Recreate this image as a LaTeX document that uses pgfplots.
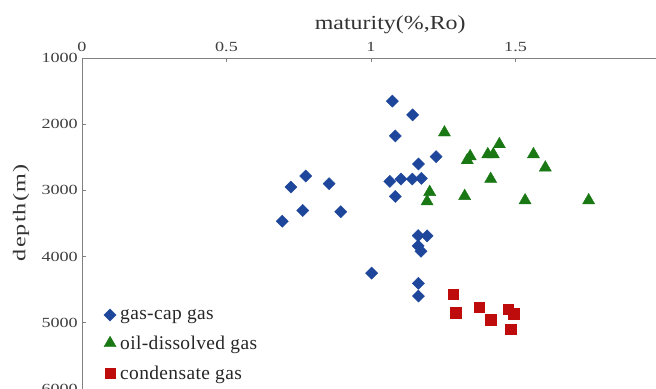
\documentclass[border=0pt]{standalone}
\usepackage{pgfplots}
\pgfplotsset{compat=1.18}
\usepackage{fontspec}
\setmainfont{Liberation Serif}
\newfontfamily\tickfont{Liberation Serif}[FakeStretch=1.3]
\newfontfamily\titlefont{Liberation Serif}[FakeStretch=1.2]
\newfontfamily\ylabfont{Liberation Serif}[FakeStretch=1.35, LetterSpace=6]
\newfontfamily\legfont{Liberation Serif}[LetterSpace=2]
\definecolor{capblue}{RGB}{30,70,155}
\definecolor{oilgreen}{RGB}{25,120,20}
\definecolor{condred}{RGB}{190,12,12}
\definecolor{axgray}{RGB}{128,128,128}
\begin{document}
\begin{tikzpicture}
\begin{axis}[
  scale only axis,
  width=574bp, height=331bp,
  xmin=0, xmax=1.986,
  ymin=1000, ymax=6000,
  y dir=reverse,
  axis x line*=top,
  axis y line*=left,
  axis line style={axgray, line width=0.9pt},
  every tick/.style={axgray, line width=0.8pt},
  tick align=inside,
  major tick length=4bp,
  xtick={0,0.5,1,1.5},
  ytick={1000,2000,3000,4000,5000,6000},
  xticklabels={0,0.5,1,1.5},
  yticklabels={1000,2000,3000,4000,5000,6000},
  /pgf/number format/assume math mode=true,
  ticklabel style={font=\tickfont\fontsize{14}{14}\selectfont, text=black!75},
  xticklabel style={anchor=south, inner sep=0pt, yshift=6bp},
  yticklabel style={anchor=east, inner sep=0pt, xshift=-4bp},
  xlabel={maturity(\%,Ro)},
  xlabel style={font=\titlefont\fontsize{20}{20}\selectfont, text=black!80,
    at={(axis description cs:0.537,1)}, anchor=base, inner sep=0pt, yshift=28.7bp},
  ylabel={depth(m)},
  ylabel style={font=\ylabfont\fontsize{18}{18}\selectfont, text=black!80,
    at={(axis description cs:-0.106,0.532)}, anchor=center, rotate=0, inner sep=0pt},
  legend style={draw=none, fill=none, at={(axis description cs:0.038,0.02)},
    anchor=south west, font=\legfont\fontsize{19.5}{21}\selectfont, row sep=12bp,
    inner sep=0pt, nodes={inner sep=1.5bp}, text=black!85},
  legend cell align=left,
  legend image code/.code={\draw plot coordinates {(0.1cm,0cm)};},
  clip=false,
]
\addplot[only marks, mark=square*, mark size=4.3bp,
  mark options={rotate=45, fill=capblue, draw=capblue}]
  coordinates {
  (0.723,2950) (0.774,2783) (0.855,2899) (0.764,3303) (0.895,3323) (0.693,3465)
  (1.002,4250) (1.074,1651) (1.144,1859) (1.084,2177) (1.225,2490) (1.164,2601)
  (1.065,2864) (1.104,2828) (1.143,2828) (1.174,2818) (1.084,3091) (1.163,3682)
  (1.194,3686) (1.163,3838) (1.173,3919) (1.164,4404) (1.164,4596)
  };
\addlegendentry{\hspace{2.5bp}gas-cap gas}
\addplot[only marks, mark=triangle*, mark size=7bp,
  mark options={fill=oilgreen, draw=oilgreen}]
  coordinates {
  (1.254,2126) (1.343,2485) (1.333,2545) (1.404,2455) (1.423,2455) (1.444,2303)
  (1.562,2455) (1.603,2656) (1.414,2828) (1.203,3025) (1.194,3167) (1.324,3086)
  (1.533,3151) (1.753,3151)
  };
\addlegendentry{\hspace{2.5bp}oil-dissolved gas}
\addplot[only marks, mark=square*, mark size=5.2bp,
  mark options={fill=condred, draw=condred}]
  coordinates {
  (1.284,4571) (1.293,4848) (1.374,4762) (1.414,4954) (1.474,4793) (1.494,4864)
  (1.483,5096)
  };
\addlegendentry{\hspace{2.5bp}condensate gas}
\draw[axgray, line width=0.9pt] (rel axis cs:0,0) -- (rel axis cs:1,0);
\coordinate (sw) at (rel axis cs:0,0);
\coordinate (ne) at (rel axis cs:1,1);
\end{axis}
\pgfresetboundingbox
\path[use as bounding box] ([shift={(-82bp,0bp)}]sw) rectangle ([shift={(0bp,58bp)}]ne);
\end{tikzpicture}
\end{document}
